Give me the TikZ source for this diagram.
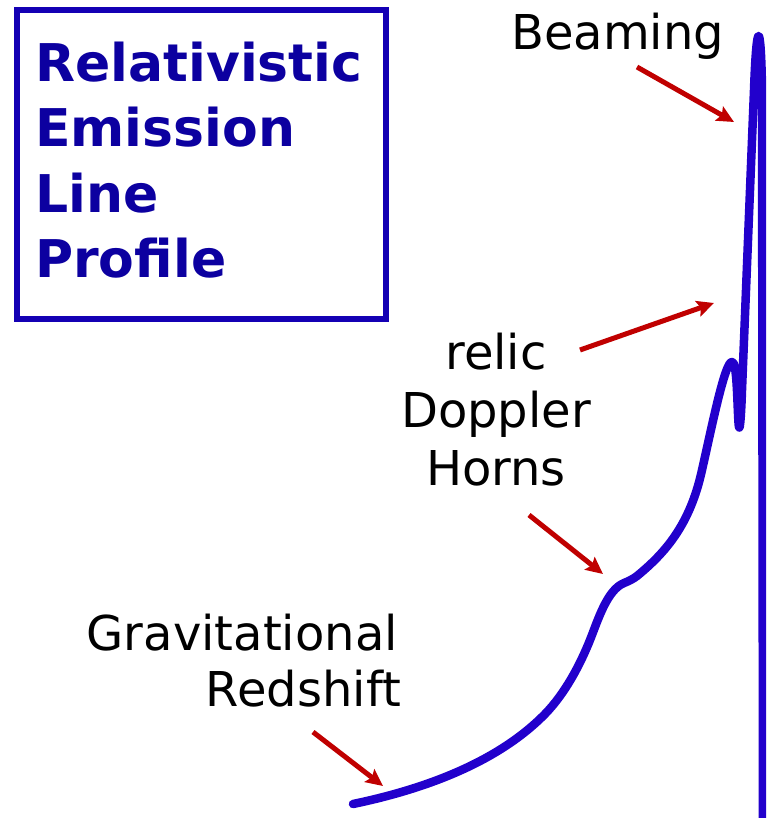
\documentclass[tikz,border=0pt]{standalone}
\usepackage{fontspec}
\setmainfont{DejaVu Sans}
\usetikzlibrary{arrows.meta}
\definecolor{curveblue}{HTML}{2200CC}
\definecolor{titleblue}{HTML}{0C00A0}
\definecolor{boxblue}{HTML}{1400B4}
\definecolor{arrowred}{HTML}{C00000}
\tikzset{
  lbl/.style={inner sep=0pt, text=black, font=\fontsize{48}{58}\selectfont},
  ttl/.style={inner sep=0pt, text=titleblue, anchor=base west, font=\fontsize{52}{65}\selectfont\bfseries},
  redarrow/.style={draw=arrowred, line width=5pt, -{Stealth[length=17pt,width=16pt,inset=3pt]}},
  profile/.style={draw=curveblue, line width=8.5pt, line join=round, line cap=round}
}
\begin{document}
\begin{tikzpicture}[x=1pt,y=-1pt]
\useasboundingbox (0,0) rectangle (766,818);
\clip (0,0) rectangle (766,818);
% title box
\node[draw=boxblue, line width=6pt, minimum width=369pt, minimum height=309pt, inner sep=0pt] (box) at (201,164.5) {};
\node[ttl] (t1) at (35,82) {Relativistic};
\node[ttl] (t2) at (35,147) {Emission};
\node[ttl] (t3) at (35,212) {Line};
\node[ttl] (t4) at (35,277) {Profile};
% labels
\node[lbl, anchor=base west] (beam) at (511,50) {Beaming};
\node[lbl, anchor=base] (relic) at (496,369) {relic};
\node[lbl, anchor=base] (doppler) at (496,427) {Doppler};
\node[lbl, anchor=base] (horns) at (496,485) {Horns};
\node[lbl, anchor=base east] (grav) at (398,650) {Gravitational};
\node[lbl, anchor=base east] (red) at (401,706) {Redshift};
% profile curve
\coordinate (p0) at (353,804);
\coordinate (p1) at (545,714);
\coordinate (q1) at (590,640);
\coordinate (p2) at (624,583);
\coordinate (p3) at (637,576);
\coordinate (p4) at (702,470);
\coordinate (p5) at (732,362);
\coordinate (p6) at (738.5,423);
\coordinate (p7) at (742,390);
\coordinate (p8) at (754,90);
\coordinate (p9) at (762,90);
\coordinate (p10) at (763,840);
\draw[profile] (p0) .. controls (430,788) and (500,760) .. (p1)
  .. controls (565,693.5) and (580,665) .. (q1)
  .. controls (598,620) and (607,590) .. (p2)
  .. controls (629,581) and (633,579) .. (p3)
  .. controls (665,553) and (690,525) .. (p4)
  .. controls (712,426) and (725,361) .. (p5)
  .. controls (737,361) and (737,400) .. (p6)
  .. controls (739.5,436) and (741,420) .. (p7)
  -- (p8)
  .. controls (756.5,18) and (761,18) .. (p9)
  -- (p10);
% arrows
\coordinate (a1s) at (637,67);   \coordinate (a1e) at (734,122);
\coordinate (a2s) at (580,350);  \coordinate (a2e) at (714,303);
\coordinate (a3s) at (529,515);  \coordinate (a3e) at (603,574);
\coordinate (a4s) at (313,732);  \coordinate (a4e) at (383,786);
\draw[redarrow] (a1s) -- (a1e);
\draw[redarrow] (a2s) -- (a2e);
\draw[redarrow] (a3s) -- (a3e);
\draw[redarrow] (a4s) -- (a4e);
\end{tikzpicture}
\end{document}
